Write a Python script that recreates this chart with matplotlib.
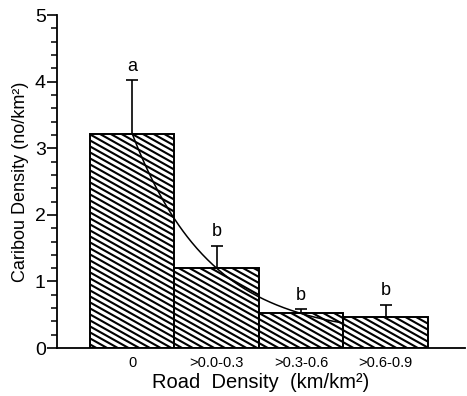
import numpy as np
import matplotlib
matplotlib.use("Agg")
import matplotlib.pyplot as plt
from matplotlib.collections import LineCollection
from matplotlib.transforms import IdentityTransform

# data
categories = ["0", ">0.0-0.3", ">0.3-0.6", ">0.6-0.9"]
density = [3.22, 1.20, 0.52, 0.47]
err_up = [0.80, 0.34, 0.06, 0.18]
letters = ["a", "b", "b", "b"]

# fitted decay curve y = c + A*exp(-k*x)
curve_c, curve_A, curve_k = 0.175, 3.045, 1.09
curve_end = 2.5

plt.rcParams["font.family"] = ["Liberation Sans", "DejaVu Sans"]

fig = plt.figure(figsize=(4.67, 3.96), dpi=100)
ax = fig.add_axes([0.122, 0.121, 0.874, 0.841])

x = np.arange(len(categories))
bars = ax.bar(x, density, width=1.0, color="white", edgecolor="black",
              linewidth=1.4, zorder=2)

# shallow diagonal hatching (about 30 deg), drawn in pixel space, clipped to each bar
slope, step = 0.56, 6.0
W, H = fig.bbox.width, fig.bbox.height
offs = np.arange(-H, H + W * slope + H, step)
segs = [[(0, o), (W, o - slope * W)] for o in offs]
for b in bars:
    lc = LineCollection(segs, colors="black", linewidths=1.5,
                        transform=IdentityTransform(), zorder=2.5)
    ax.add_collection(lc, autolim=False)
    lc.set_clip_path(b)

ax.errorbar(x, density, yerr=[np.zeros(len(x)), err_up], fmt="none",
            ecolor="black", elinewidth=1.2, capsize=4, capthick=1.2, zorder=3)
for xi, d, e, lab in zip(x, density, err_up, letters):
    ax.annotate(lab, (xi, d + e), xytext=(0, 4), textcoords="offset points",
                ha="center", va="bottom", fontsize=13)

xc = np.linspace(0, curve_end, 200)
ax.plot(xc, curve_c + curve_A * np.exp(-curve_k * xc), color="black",
        lw=1.1, zorder=4)

ax.set_xlim(-0.89, 3.94)
ax.set_ylim(0, 5)
ax.set_xticks(x)
ax.set_xticklabels(categories, fontsize=10.5)
ax.tick_params(axis="x", length=0, pad=6)
ax.set_yticks(range(6))
ax.set_yticks(np.arange(0, 5.01, 0.2), minor=True)
ax.tick_params(axis="y", which="major", direction="out", length=7,
               width=1.2, labelsize=14, pad=1)
ax.tick_params(axis="y", which="minor", direction="out", length=4, width=1.1)

for s in ["top", "right"]:
    ax.spines[s].set_visible(False)
ax.spines["left"].set_linewidth(1.3)
ax.spines["bottom"].set_linewidth(1.3)

ax.set_ylabel("Caribou Density (no/km²)", fontsize=13, labelpad=4)
ax.set_xlabel("Road  Density  (km/km²)", fontsize=14.5, labelpad=2)

fig.savefig("out.png", dpi=100)
